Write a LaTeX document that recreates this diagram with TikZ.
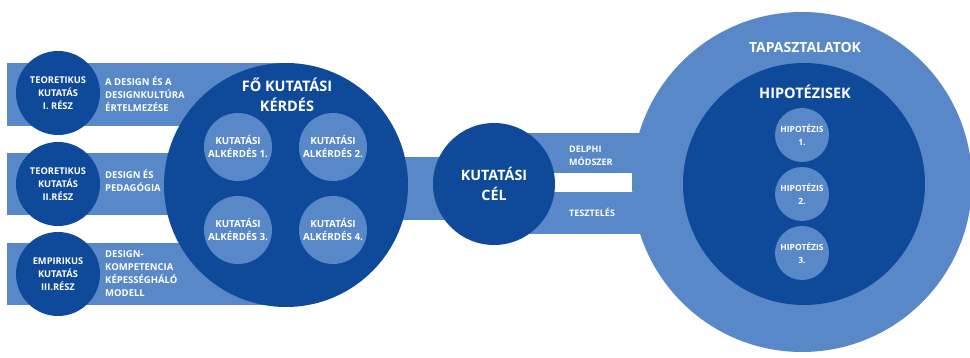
\documentclass[tikz,border=0pt]{standalone}
\usepackage{fontspec}
\setmainfont{Open Sans}
\definecolor{lb}{RGB}{88,136,199}
\definecolor{db}{RGB}{15,74,154}
\tikzset{
  disc/.style={circle, inner sep=0pt, align=center, text=white, font=\bfseries},
  darkdisc/.style={disc, fill=db},
  lightdisc/.style={disc, fill=lb},
  lbl/.style={text=white, font=\bfseries\fontsize{9.5}{13}\selectfont, align=left, anchor=west, inner sep=0pt},
  bigt/.style={text=white, font=\bfseries\fontsize{14.5}{20}\selectfont, align=center, inner sep=0pt}
}
\begin{document}
\begin{tikzpicture}[x=1pt,y=-1pt]
\useasboundingbox (0,0) rectangle (970,358);
\clip (0,0) rectangle (970,358);
% coordinates
\coordinate (mc) at (286,185);
\coordinate (cc) at (494,184);
\coordinate (oc) at (802,182);
% bands
\fill[lb] (7,63) rectangle (mc |- 0,126);
\fill[lb] (7,153) rectangle (mc |- 0,215);
\fill[lb] (7,243) rectangle (mc |- 0,305);
\fill[lb] (mc |- 0,157) rectangle (cc |- 0,220);
\fill[lb] (cc |- 0,133) rectangle (oc |- 0,173);
\fill[lb] (cc |- 0,192) rectangle (oc |- 0,234);
% left discs
\node[darkdisc, minimum size=84pt, font=\bfseries\fontsize{9.3}{13.3}\selectfont] (t1) at (58,93) {TEORETIKUS\\KUTATÁS\\I. RÉSZ};
\node[darkdisc, minimum size=84pt, font=\bfseries\fontsize{9.3}{13.3}\selectfont] (t2) at (58,184) {TEORETIKUS\\KUTATÁS\\II.RÉSZ};
\node[darkdisc, minimum size=84pt, font=\bfseries\fontsize{9.3}{13.3}\selectfont] (t3) at (58,274) {EMPIRIKUS\\KUTATÁS\\III.RÉSZ};
\node[lbl] (l1) at (105,94) {A DESIGN ÉS A\\DESIGNKULTÚRA\\ÉRTELMEZÉSE};
\node[lbl] (l2) at (105,181) {DESIGN ÉS\\PEDAGÓGIA};
\node[lbl] (l3) at (105,274) {DESIGN-\\KOMPETENCIA\\KÉPESSÉGHÁLÓ\\MODELL};
% main disc
\node[darkdisc, minimum size=244pt] (main) at (mc) {};
\node[bigt] (mt) at (287,95) {FŐ KUTATÁSI\\KÉRDÉS};
\node[lightdisc, minimum size=68pt, font=\bfseries\fontsize{9.8}{13}\selectfont] (s1) at (238,147) {KUTATÁSI\\ALKÉRDÉS 1.};
\node[lightdisc, minimum size=68pt, font=\bfseries\fontsize{9.8}{13}\selectfont] (s2) at (333,147) {KUTATÁSI\\ALKÉRDÉS 2.};
\node[lightdisc, minimum size=68pt, font=\bfseries\fontsize{9.8}{13}\selectfont] (s3) at (238,230) {KUTATÁSI\\ALKÉRDÉS 3.};
\node[lightdisc, minimum size=68pt, font=\bfseries\fontsize{9.8}{13}\selectfont] (s4) at (333,230) {KUTATÁSI\\ALKÉRDÉS 4.};
% goal disc
\node[darkdisc, minimum size=122pt, font=\bfseries\fontsize{14.3}{20}\selectfont] (cel) at (cc) {KUTATÁSI\\CÉL};
\node[lbl, font=\bfseries\fontsize{9}{13.5}\selectfont] (delphi) at (569,156) {DELPHI\\MÓDSZER};
\node[lbl, font=\bfseries\fontsize{9}{13.5}\selectfont] (teszt) at (569,212) {TESZTELÉS};
% right discs
\node[lightdisc, minimum size=340pt] (outer) at (oc) {};
\node[bigt, font=\bfseries\fontsize{14}{16}\selectfont] (tap) at (805,47) {TAPASZTALATOK};
\node[darkdisc, minimum size=242pt] (inner) at (804,184) {};
\node[bigt, font=\bfseries\fontsize{14.5}{16}\selectfont] (hipt) at (805,92) {HIPOTÉZISEK};
\node[lightdisc, minimum size=54pt, font=\bfseries\fontsize{8.5}{12.5}\selectfont] (h1) at (802,135) {HIPOTÉZIS\\1.};
\node[lightdisc, minimum size=54pt, font=\bfseries\fontsize{8.5}{12.5}\selectfont] (h2) at (802,194) {HIPOTÉZIS\\2.};
\node[lightdisc, minimum size=54pt, font=\bfseries\fontsize{8.5}{12.5}\selectfont] (h3) at (802,253) {HIPOTÉZIS\\3.};
\end{tikzpicture}
\end{document}
